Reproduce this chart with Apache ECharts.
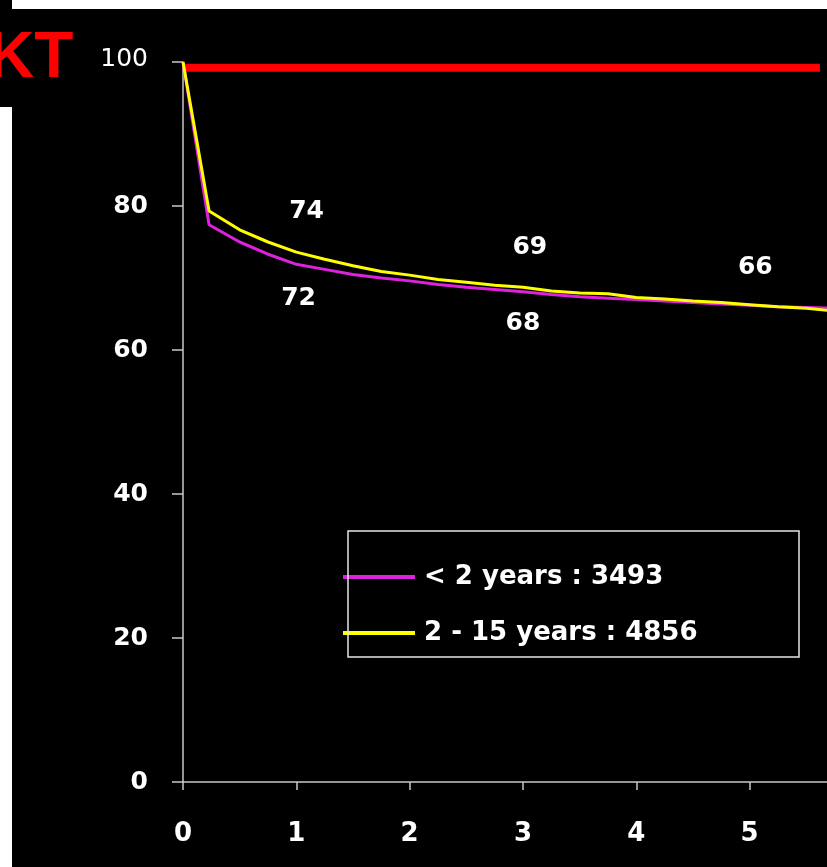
<!DOCTYPE html>
<html>
<head>
<meta charset="utf-8">
<script src="https://cdn.jsdelivr.net/npm/echarts@6/dist/echarts.min.js"></script>
<style>
  html, body { margin: 0; padding: 0; background: #000; overflow: hidden; }
  #main { width: 900px; height: 867px; }
</style>
</head>
<body>
<div id="main"></div>
<script>
// years after transplant
var years = [0, 0.23, 0.5, 0.75, 1, 1.25, 1.5, 1.75, 2, 2.25, 2.5, 2.75, 3, 3.25, 3.5, 3.75, 4, 4.25, 4.5, 4.75, 5, 5.25, 5.5, 5.75];
// < 2 years : 3493
var under2 = [100, 77.4, 75.0, 73.3, 71.9, 71.2, 70.5, 70.0, 69.6, 69.1, 68.7, 68.4, 68.1, 67.7, 67.4, 67.2, 67.0, 66.8, 66.6, 66.4, 66.2, 66.0, 65.9, 65.8];
// 2 - 15 years : 4856
var from2to15 = [100, 79.3, 76.7, 75.0, 73.6, 72.6, 71.7, 70.9, 70.4, 69.8, 69.4, 69.0, 68.7, 68.2, 67.9, 67.8, 67.3, 67.1, 66.8, 66.6, 66.3, 66.0, 65.8, 65.4];
var seriesNames = ['< 2 years : 3493', '2 - 15 years : 4856'];
// red reference line
var refX = [0.02, 5.62];
var refY = 99.2;
// value annotations
var noteText = ['74', '72', '69', '68', '66'];
var noteX = [1.09, 1.02, 3.06, 3.0, 5.05];
var noteY = [79.2, 67.2, 74.3, 63.75, 71.5];
var yTicks = [0, 20, 40, 60, 80, 100];
var xTicks = [0, 1, 2, 3, 4, 5, 6];

function pairs(xs, ys) {
  return xs.map(function (x, i) { return [x, ys[i]]; });
}

var chart = echarts.init(document.getElementById('main'));
var axisColor = '#c8c8c8';
var font = 'DejaVu Sans';

var option = {
  backgroundColor: '#000',
  animation: false,
  grid: { left: 183, top: 62, right: 37, bottom: 85, containLabel: false },
  xAxis: {
    type: 'value',
    min: xTicks[0],
    max: xTicks[xTicks.length - 1],
    interval: 1,
    axisLine: { lineStyle: { color: axisColor, width: 1.5 } },
    axisTick: { length: 8, lineStyle: { color: axisColor, width: 1.5 } },
    splitLine: { show: false },
    axisLabel: { color: '#fff', fontFamily: font, fontWeight: 'bold', fontSize: 26, margin: 39 }
  },
  yAxis: {
    type: 'value',
    min: yTicks[0],
    max: yTicks[yTicks.length - 1],
    interval: 20,
    axisLine: { show: true, lineStyle: { color: axisColor, width: 1.5 } },
    axisTick: { show: true, length: 11, lineStyle: { color: axisColor, width: 1.5 } },
    splitLine: { show: false },
    axisLabel: {
      color: '#fff', fontFamily: font, fontWeight: 'bold', fontSize: 25, margin: 35,
      formatter: function (v) { return v === 100 ? '{a|100}' : String(v); },
      rich: { a: { color: '#fff', fontFamily: font, fontWeight: 'normal', fontSize: 25, padding: [0, 0, 6, 0] } }
    }
  },
  legend: {
    data: seriesNames,
    orient: 'vertical',
    left: 338,
    top: 556,
    icon: 'rect',
    itemWidth: 72,
    itemHeight: 4,
    itemGap: 24,
    textStyle: { color: '#fff', fontFamily: font, fontWeight: 'bold', fontSize: 26, lineHeight: 32, padding: [0, 0, 0, 4] }
  },
  graphic: [
    { type: 'rect', shape: { x: 12, y: 0, width: 815, height: 9 }, style: { fill: '#fff' }, z: 100 },
    { type: 'rect', shape: { x: 0, y: 107, width: 12, height: 760 }, style: { fill: '#fff' }, z: 100 },
    { type: 'text', left: -12, top: 27, z: 102,
      style: { text: 'KT', fill: '#ff0000', font: 'bold 64px "Liberation Sans", Arial' } },
    { type: 'rect', shape: { x: 348, y: 531, width: 451, height: 126 },
      style: { fill: 'none', stroke: '#e6e6e6', lineWidth: 1.5 }, z: 10 }
  ],
  series: [
    {
      name: 'ref',
      type: 'line',
      data: refX.map(function (x) { return [x, refY]; }),
      showSymbol: false,
      lineStyle: { color: '#ff0000', width: 8, cap: 'butt' },
      z: 3
    },
    {
      name: seriesNames[0],
      type: 'line',
      data: pairs(years, under2),
      showSymbol: false,
      itemStyle: { color: '#dd22dd' },
      lineStyle: { color: '#dd22dd', width: 3 },
      z: 4
    },
    {
      name: seriesNames[1],
      type: 'line',
      data: pairs(years, from2to15),
      showSymbol: false,
      itemStyle: { color: '#ffff00' },
      lineStyle: { color: '#ffff00', width: 3 },
      z: 5
    },
    {
      name: 'notes',
      type: 'scatter',
      silent: true,
      symbolSize: 0,
      itemStyle: { opacity: 1 },
      data: noteX.map(function (x, i) { return { value: [x, noteY[i]], label: { formatter: noteText[i] } }; }),
      label: { show: true, position: 'inside', color: '#fff', fontFamily: font, fontWeight: 'bold', fontSize: 25 },
      z: 6
    }
  ]
};

chart.setOption(option);
</script>
</body>
</html>
